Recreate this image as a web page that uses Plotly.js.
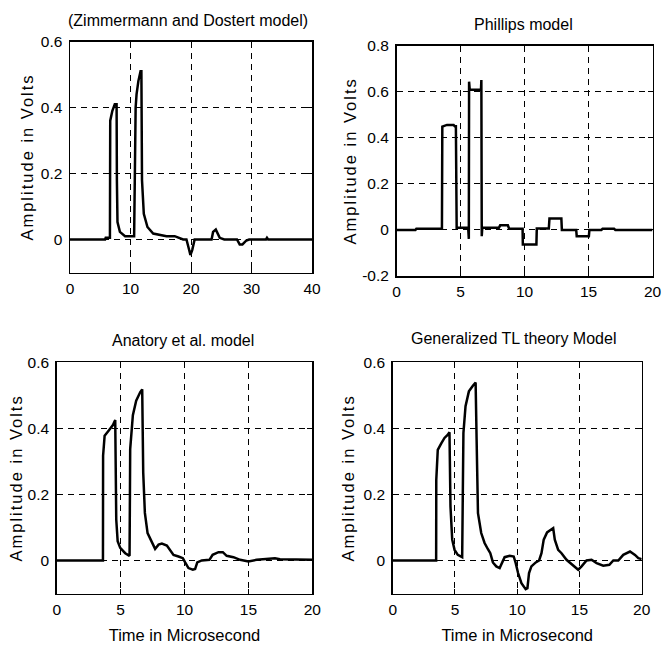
<!DOCTYPE html>
<html>
<head>
<meta charset="utf-8">
<script src="https://cdn.plot.ly/plotly-3.0.1.min.js"></script>
<style>
html,body{margin:0;padding:0;background:#fff;}
#chart{width:662px;height:650px;}
.ytitle,.y2title,.y3title,.y4title{letter-spacing:2px;}
</style>
</head>
<body>
<div id="chart"></div>
<script>
// ---- Data ----
const panelTitles = ["(Zimmermann and Dostert model)", "Phillips model", "Anatory et al. model", "Generalized TL theory Model"];
const yTitle = "Amplitude in Volts";
const xTitle = "Time in Microsecond";

// Panel 1: Zimmermann and Dostert model (time 0..40 us)
const zdX = [0, 5.8, 5.9, 6.5, 6.6, 6.65, 7.0, 7.4, 7.7, 7.75, 7.85, 8.25, 9.1, 10.6, 10.7, 10.85, 11.0, 11.3, 11.66, 11.8, 11.9, 12.2, 12.8, 13.75, 15.95, 17.3, 18.7, 19.25, 19.7, 19.9, 20.2, 20.6, 23.4, 23.65, 24.1, 24.75, 25.5, 27.6, 28.05, 28.5, 29.15, 29.6, 32.4, 32.56, 32.75, 40];
const zdY = [0, 0, 0.005, 0.005, 0.005, 0.36, 0.39, 0.41, 0.41, 0.18, 0.053, 0.023, 0.01, 0.01, 0.30, 0.40, 0.44, 0.48, 0.51, 0.51, 0.18, 0.078, 0.038, 0.018, 0.01, 0.01, 0, 0, -0.032, -0.047, -0.032, 0, 0, 0.023, 0.03, 0.005, 0, 0, -0.015, -0.015, -0.003, 0, 0, 0.005, 0, 0];

// Panel 2: Phillips model (time 0..20 us)
const phX = [0, 1.48, 1.55, 3.4, 3.55, 3.58, 3.94, 4.46, 4.55, 4.64, 4.7, 5.6, 5.65, 5.67, 5.72, 6.6, 6.63, 6.66, 6.7, 8.0, 8.1, 8.7, 8.8, 9.85, 9.87, 10.93, 10.96, 11.9, 11.95, 12.88, 12.92, 14.04, 14.08, 15.03, 15.07, 16.0, 16.1, 17.0, 17.1, 20];
const phY = [0, 0, 0.005, 0.005, 0.005, 0.449, 0.456, 0.456, 0.45, 0.45, 0.009, 0.009, -0.039, 0.644, 0.609, 0.609, 0.651, -0.027, 0.009, 0.009, 0.02, 0.02, 0.005, 0.005, -0.063, -0.063, 0.006, 0.006, 0.05, 0.05, 0, 0, -0.027, -0.027, 0, 0, 0.005, 0.005, 0, 0];

// Panel 3: Anatory et al. model (time 0..20 us)
const anX = [0, 3.62, 3.63, 3.75, 4.06, 4.4, 4.58, 4.66, 4.77, 4.97, 5.36, 5.7, 5.73, 5.75, 5.96, 6.22, 6.54, 6.69, 6.77, 6.9, 7.11, 7.45, 7.7, 7.97, 8.23, 8.62, 8.88, 9.14, 9.53, 9.87, 10.05, 10.31, 10.65, 10.83, 11.0, 11.35, 11.95, 12.2, 12.66, 13.0, 13.3, 13.83, 14.35, 15.0, 15.65, 16.43, 17.08, 17.47, 20];
const anY = [0, 0, 0.317, 0.378, 0.393, 0.41, 0.425, 0.124, 0.058, 0.038, 0.022, 0.014, 0.20, 0.337, 0.44, 0.484, 0.51, 0.518, 0.266, 0.144, 0.083, 0.053, 0.035, 0.048, 0.051, 0.045, 0.032, 0.017, 0.012, 0.007, -0.006, -0.023, -0.028, -0.026, -0.006, 0, 0.002, 0.017, 0.025, 0.025, 0.014, 0.01, 0.002, -0.003, 0.002, 0.004, 0.007, 0.004, 0.002];

// Panel 4: Generalized TL theory model (time 0..20 us)
const tlX = [0, 3.49, 3.5, 3.62, 3.89, 4.16, 4.43, 4.56, 4.64, 4.78, 4.97, 5.23, 5.58, 5.64, 5.68, 5.85, 6.12, 6.44, 6.66, 6.74, 6.85, 7.11, 7.38, 7.65, 7.84, 8.05, 8.32, 8.59, 8.81, 8.99, 9.4, 9.72, 9.88, 10.07, 10.34, 10.68, 10.82, 10.95, 11.14, 11.49, 11.76, 11.95, 12.13, 12.4, 12.89, 13.02, 13.29, 13.56, 13.96, 14.36, 14.9, 15.17, 15.57, 15.97, 16.38, 16.91, 17.4, 17.72, 18.12, 18.52, 19.06, 19.46, 19.73, 20];
const tlY = [0, 0, 0.244, 0.335, 0.354, 0.371, 0.381, 0.388, 0.164, 0.063, 0.032, 0.017, 0.01, 0.2, 0.386, 0.467, 0.512, 0.529, 0.539, 0.366, 0.143, 0.083, 0.053, 0.034, 0.022, -0.006, -0.018, -0.023, -0.003, 0.01, 0.014, 0.012, -0.008, -0.038, -0.069, -0.087, -0.084, -0.038, -0.018, -0.006, 0, 0.022, 0.063, 0.085, 0.098, 0.063, 0.032, 0.022, 0.002, -0.01, -0.028, -0.018, 0, 0.002, -0.008, -0.016, -0.013, 0, 0, 0.017, 0.027, 0.017, 0.007, 0.004];

const xTicksWide = [0, 10, 20, 30, 40];
const xTicksNarrow = [0, 5, 10, 15, 20];
const yTicksA = [0, 0.2, 0.4, 0.6];
const yTickTextA = ["0", "0.2", "0.4", "0.6"];
const yTicksB = [-0.2, 0, 0.2, 0.4, 0.6, 0.8];
const yTickTextB = ["-0.2", "0", "0.2", "0.4", "0.6", "0.8"];

// ---- Styling ----
const FONT = "Liberation Sans, Arial, sans-serif";
const FS = 15.5;
const TFS = 16;
const YTFS = 16.5;
const XTFS = 16.5;

function axBase() {
  return {
    showline: true, linecolor: "#000", linewidth: 1.5, mirror: "ticks",
    ticks: "inside", ticklen: 5, tickwidth: 1, tickcolor: "#000",
    showgrid: true, gridcolor: "#000", gridwidth: 1, griddash: "6px,5px",
    zeroline: false, fixedrange: true,
    tickfont: {family: FONT, size: FS, color: "#000"},
    ticklabeloverflow: "allow"
  };
}
function xAx(domain, anchor, ticks, range, withTitle) {
  const a = Object.assign(axBase(), {domain: domain, anchor: anchor, range: range, tickmode: "array", tickvals: ticks, ticktext: ticks.map(String), ticklabelstandoff: 1});
  if (withTitle) a.title = {text: xTitle, font: {family: FONT, size: XTFS, color: "#000"}, standoff: 13};
  return a;
}
function yAx(domain, anchor, ticks, text, range, standoff) {
  return Object.assign(axBase(), {domain: domain, anchor: anchor, range: range, tickmode: "array", tickvals: ticks, ticktext: text, ticklabelstandoff: 3,
    title: {text: yTitle, font: {family: FONT, size: YTFS, color: "#000"}, standoff: standoff}});
}

const W = 662, H = 650;
const px = v => v / W;
const py = v => 1 - v / H;

const traceStyle = {mode: "lines", line: {color: "#000", width: 2.5}, showlegend: false, hoverinfo: "skip"};
const data = [
  Object.assign({x: zdX, y: zdY, xaxis: "x", yaxis: "y"}, traceStyle),
  Object.assign({x: phX, y: phY, xaxis: "x2", yaxis: "y2"}, traceStyle),
  Object.assign({x: anX, y: anY, xaxis: "x3", yaxis: "y3"}, traceStyle),
  Object.assign({x: tlX, y: tlY, xaxis: "x4", yaxis: "y4"}, traceStyle)
];

const layout = {
  width: W, height: H,
  margin: {l: 0, r: 0, t: 0, b: 0},
  paper_bgcolor: "#fff", plot_bgcolor: "#fff",
  font: {family: FONT, size: FS, color: "#000"},
  xaxis:  xAx([px(70), px(312)], "y", xTicksWide, [0, 40], false),
  yaxis:  yAx([py(272.5), py(41.5)], "x", yTicksA, yTickTextA, [-0.1, 0.6], 3),
  xaxis2: xAx([px(396.5), px(652.5)], "y2", xTicksNarrow, [0, 20], false),
  yaxis2: yAx([py(276), py(45.7)], "x2", yTicksB, yTickTextB, [-0.2, 0.8], 1),
  xaxis3: xAx([px(56.7), px(312.3)], "y3", xTicksNarrow, [0, 20], true),
  yaxis3: yAx([py(593.5), py(362.3)], "x3", yTicksA, yTickTextA, [-0.1, 0.6], 1),
  xaxis4: xAx([px(392.7), px(641.7)], "y4", xTicksNarrow, [0, 20], true),
  yaxis4: yAx([py(593.5), py(362.3)], "x4", yTicksA, yTickTextA, [-0.1, 0.6], 5),
  annotations: [
    {text: panelTitles[0], x: px(188), y: py(21), xref: "paper", yref: "paper", xanchor: "center", yanchor: "middle", showarrow: false, font: {family: FONT, size: TFS, color: "#000"}},
    {text: panelTitles[1], x: px(523), y: py(25), xref: "paper", yref: "paper", xanchor: "center", yanchor: "middle", showarrow: false, font: {family: FONT, size: TFS, color: "#000"}},
    {text: panelTitles[2], x: px(183), y: py(340.7), xref: "paper", yref: "paper", xanchor: "center", yanchor: "middle", showarrow: false, font: {family: FONT, size: TFS, color: "#000"}},
    {text: panelTitles[3], x: px(513), y: py(338.3), xref: "paper", yref: "paper", xanchor: "center", yanchor: "middle", showarrow: false, font: {family: FONT, size: TFS, color: "#000"}}
  ]
};

Plotly.newPlot("chart", data, layout, {staticPlot: true, displayModeBar: false});
</script>
</body>
</html>
